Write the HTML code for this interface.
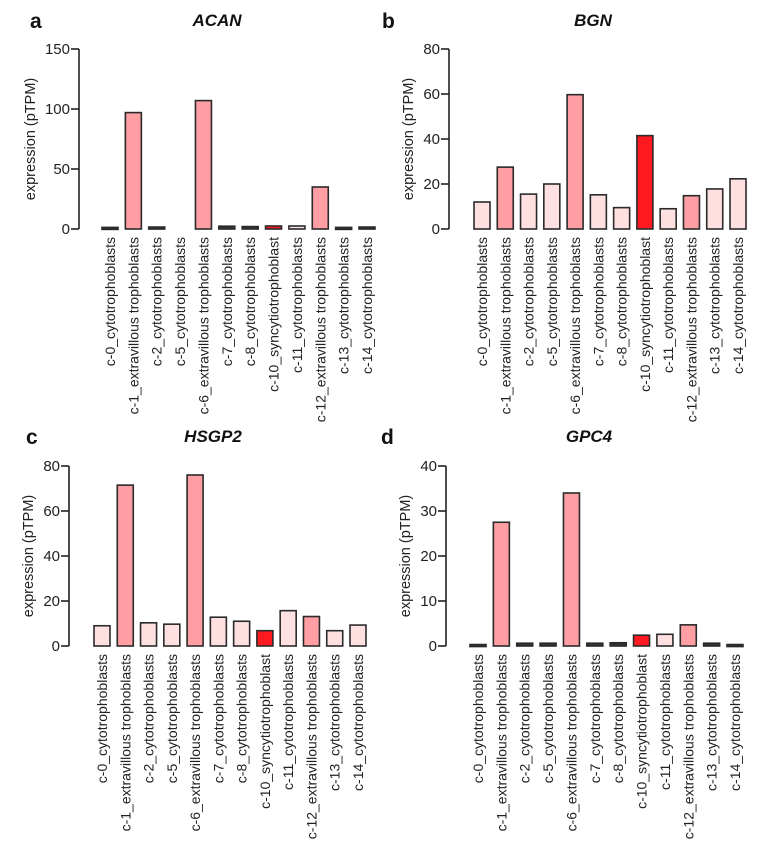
<!DOCTYPE html>
<html><head><meta charset="utf-8"><style>
html,body{margin:0;padding:0;background:#fff;}
svg{display:block;font-family:"Liberation Sans",Arial,sans-serif;}
</style></head><body>
<svg id="fig" width="765" height="848" viewBox="0 0 765 848" xmlns="http://www.w3.org/2000/svg"></svg>
<script>
const categories = ["c-0_cytotrophoblasts","c-1_extravillous trophoblasts","c-2_cytotrophoblasts","c-5_cytotrophoblasts","c-6_extravillous trophoblasts","c-7_cytotrophoblasts","c-8_cytotrophoblasts","c-10_syncytiotrophoblast","c-11_cytotrophoblasts","c-12_extravillous trophoblasts","c-13_cytotrophoblasts","c-14_cytotrophoblasts"];
const acanValues = [0.5,97,0.8,0,107,1.5,1.2,2.5,2.5,35,0.5,0.8];
const bgnValues = [12,27.5,15.5,20,59.7,15.2,9.5,41.5,9,14.8,17.8,22.3];
const hsgp2Values = [9,71.5,10.3,9.7,76,12.8,11,6.8,15.7,13.1,6.8,9.3];
const gpc4Values = [0.1,27.5,0.4,0.4,34,0.4,0.5,2.4,2.6,4.7,0.4,0.1];
const acanTicks = [0,50,100,150];
const bgnTicks = [0,20,40,60,80];
const hsgp2Ticks = [0,20,40,60,80];
const gpc4Ticks = [0,10,20,30,40];
const colorKind = ["l","m","l","l","m","l","l","r","l","m","l","l"];

const NS="http://www.w3.org/2000/svg";
const svg=document.getElementById('fig');
function mk(tag,attrs,parent,text){const e=document.createElementNS(NS,tag);for(const k in attrs)e.setAttribute(k,attrs[k]);if(text!==undefined)e.textContent=text;(parent||svg).appendChild(e);return e;}
const fills={l:"#ffe0e1",m:"#ff9ea3",r:"#ff1a22"};

const panels=[
 {letter:"a",title:"ACAN",vals:acanValues,ticks:acanTicks,max:150,ax:79,top:49,base:229,x0:110,x1:367,lx:30,ly:28,tx:217,yo:44},
 {letter:"b",title:"BGN",vals:bgnValues,ticks:bgnTicks,max:80,ax:449,top:49,base:229,x0:482,x1:738,lx:382,ly:28,tx:593,yo:36},
 {letter:"c",title:"HSGP2",vals:hsgp2Values,ticks:hsgp2Ticks,max:80,ax:69,top:466,base:646,x0:102,x1:358,lx:26,ly:444,tx:213,yo:36},
 {letter:"d",title:"GPC4",vals:gpc4Values,ticks:gpc4Ticks,max:40,ax:446,top:466,base:646,x0:478,x1:735,lx:381,ly:444,tx:589,yo:36}
];

panels.forEach(p=>{
 const g=mk('g',{});
 
 
 const y=v=>p.base-(v/p.max)*(p.base-p.top);
 const step=(p.x1-p.x0)/(categories.length-1);
 const x=i=>p.x0+i*step;
 const L=mk('text',{x:p.lx,y:p.ly,'font-size':21,'font-weight':'bold',fill:'#111'},g,p.letter);
  
 const T=mk('text',{x:p.tx,y:p.ly-2,'font-size':17,'font-weight':'bold','font-style':'italic','text-anchor':'middle',fill:'#111'},g,p.title);
  
 const A=mk('line',{x1:p.ax,y1:p.top,x2:p.ax,y2:p.base,stroke:'#222','stroke-width':1.6},g);
  
 p.ticks.forEach(t=>{
  const tl=mk('line',{x1:p.ax-8,y1:y(t),x2:p.ax,y2:y(t),stroke:'#222','stroke-width':1.6},g);
   
  const tt=mk('text',{x:p.ax-9,y:y(t)+5,'font-size':15,'text-anchor':'end',fill:'#222'},g,String(t));
   
 });
 const ycx=p.ax-p.yo, ycy=(p.top+p.base)/2;
 const yt=mk('text',{x:ycx,y:ycy,'font-size':14.5,'text-anchor':'middle',fill:'#222',transform:`rotate(-90 ${ycx} ${ycy})`},g,'expression (pTPM)');
  
 p.vals.forEach((v,i)=>{
  const h=Math.max(p.base-y(v),0);
  if(v>0){
   const small=h<3;
   const r=mk('rect',{x:x(i)-8,y:p.base-h-(small?1:0),width:16,height:small?Math.max(h,1)+1:h,fill:small?'#333':fills[colorKind[i]],stroke:'#2a2a2a','stroke-width':1.6},g);
   
   
  }
  const lx=x(i)+5, ly=p.base+8;
  const ct=mk('text',{x:lx,y:ly,'font-size':14,'text-anchor':'end',fill:'#222',transform:`rotate(-90 ${lx} ${ly})`},g,categories[i]);
   
 });
});
</script>
</body></html>
